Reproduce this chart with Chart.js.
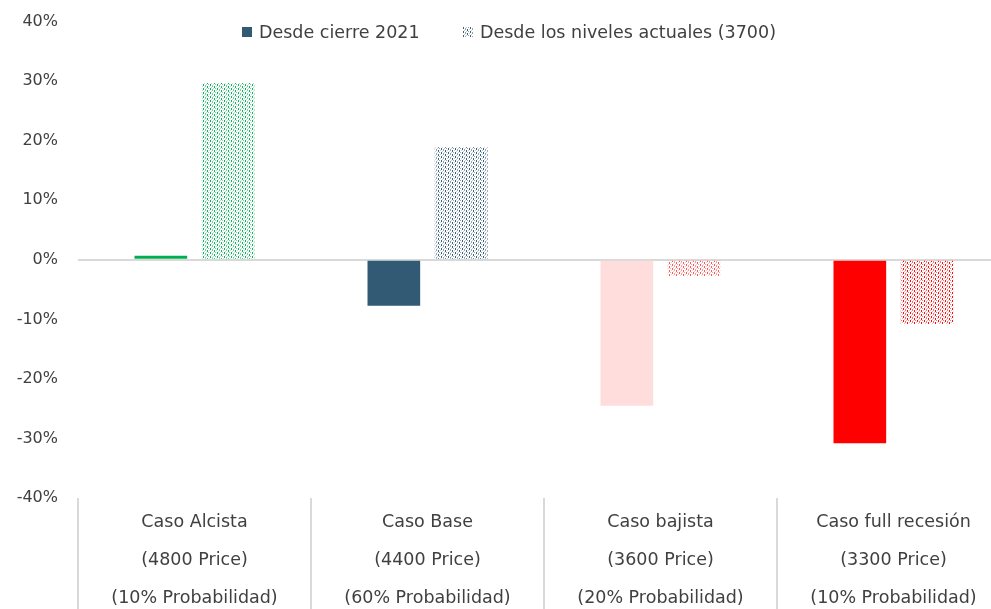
<!DOCTYPE html>
<html><head><meta charset="utf-8">
<script src="https://cdn.jsdelivr.net/npm/chart.js@4/dist/chart.umd.min.js"></script>
<style>
html,body{margin:0;padding:0;overflow:hidden;background:#fff;}
#wrap{position:relative;width:1010px;height:609px;overflow:hidden;}
#c{position:absolute;left:0;top:-8px;}
.leg{position:absolute;top:22px;font-family:"DejaVu Sans",sans-serif;font-size:17.5px;color:#404040;display:flex;align-items:center;height:20px;white-space:nowrap;}
.leg canvas{margin-right:7px;}
</style></head><body>
<div id="wrap">
<canvas id="c" width="1010" height="617"></canvas>
<div class="leg" style="left:242px"><canvas id="l1" width="10" height="10"></canvas><span id="t1"></span></div>
<div class="leg" style="left:463px"><canvas id="l2" width="10" height="10"></canvas><span id="t2"></span></div>
</div>
<script>
const categories = [
  ["Caso Alcista", "(4800 Price)", "(10% Probabilidad)"],
  ["Caso Base", "(4400 Price)", "(60% Probabilidad)"],
  ["Caso bajista", "(3600 Price)", "(20% Probabilidad)"],
  ["Caso full recesión", "(3300 Price)", "(10% Probabilidad)"]
];
const seriesNames = ["Desde cierre 2021", "Desde los niveles actuales (3700)"];
const desdeCierre2021 = [0.7, -7.7, -24.5, -30.8];
const desdeNivelesActuales = [29.7, 18.9, -2.7, -10.8];
const categoryColors = ["#00B050", "#325A74", "#FFDDDD", "#FF0000"];
const patternColors = ["#00B050", "#325A74", "#FF4D4D", "#FF0000"];
const yTicks = [-40, -30, -20, -10, 0, 10, 20, 30, 40];

function patternTile(color) {
  const t = document.createElement('canvas');
  t.width = 7; t.height = 4;
  const g = t.getContext('2d');
  g.fillStyle = color;
  g.globalAlpha = 0.95; g.fillRect(0, 0, 1, 2); g.fillRect(4, 2, 1, 2);
  g.globalAlpha = 0.55; g.fillRect(2, 1, 1, 2); g.fillRect(5, 0, 1, 1);
  g.globalAlpha = 0.3;  g.fillRect(1, 3, 1, 1); g.fillRect(3, 0, 1, 1); g.fillRect(6, 2, 1, 1);
  return t;
}
function makePattern(color) {
  return document.getElementById('c').getContext('2d').createPattern(patternTile(color), 'repeat');
}

document.getElementById('t1').textContent = seriesNames[0];
document.getElementById('t2').textContent = seriesNames[1];
(function(){
  const a = document.getElementById('l1').getContext('2d');
  a.fillStyle = categoryColors[1]; a.fillRect(0,0,10,10);
  const b = document.getElementById('l2').getContext('2d');
  b.fillStyle = b.createPattern(patternTile(categoryColors[1]),'repeat'); b.fillRect(0,0,10,10);
})();

const separators = {
  id: 'separators',
  afterDraw(chart) {
    const x = chart.scales.x, a = chart.chartArea, ctx = chart.ctx;
    const n = categories.length;
    const xs = [a.left];
    for (let i = 1; i < n; i++) xs.push((x.getPixelForValue(i - 1) + x.getPixelForValue(i)) / 2);
    xs.push(a.right);
    ctx.save();
    ctx.strokeStyle = '#D9D9D9';
    ctx.lineWidth = 2;
    xs.forEach(px => {
      ctx.beginPath();
      ctx.moveTo(px, a.bottom);
      ctx.lineTo(px, chart.height);
      ctx.stroke();
    });
    ctx.restore();
  }
};

new Chart(document.getElementById('c'), {
  type: 'bar',
  data: {
    labels: categories,
    datasets: [
      { label: seriesNames[0], data: desdeCierre2021, backgroundColor: categoryColors,
        categoryPercentage: 0.578, barPercentage: 0.782 },
      { label: seriesNames[1], data: desdeNivelesActuales, backgroundColor: patternColors.map(makePattern),
        categoryPercentage: 0.578, barPercentage: 0.782 }
    ]
  },
  options: {
    responsive: false,
    animation: false,
    devicePixelRatio: 1,
    layout: { padding: { top: 4, left: 0, right: 0, bottom: 0 } },
    plugins: { legend: { display: false }, tooltip: { enabled: false } },
    scales: {
      y: {
        min: -40, max: 40,
        afterBuildTicks: s => { s.ticks = yTicks.map(v => ({ value: v })); },
        afterFit: s => { s.width = 78; },
        border: { display: false },
        grid: { drawTicks: false, lineWidth: 2,
                color: c => (c.tick && c.tick.value === 0) ? '#D9D9D9' : 'rgba(0,0,0,0)' },
        ticks: { padding: 20, color: '#404040', callback: v => v + '%',
                 font: { family: '"DejaVu Sans"', size: 16 } }
      },
      x: {
        afterFit: s => { s.height = 111; },
        border: { display: false },
        grid: { display: false },
        ticks: { color: '#404040', maxRotation: 0, autoSkip: false, padding: -3,
                 font: { family: '"DejaVu Sans"', size: 17.5, lineHeight: 2.18 } }
      }
    }
  },
  plugins: [separators]
});
</script>
</body></html>
